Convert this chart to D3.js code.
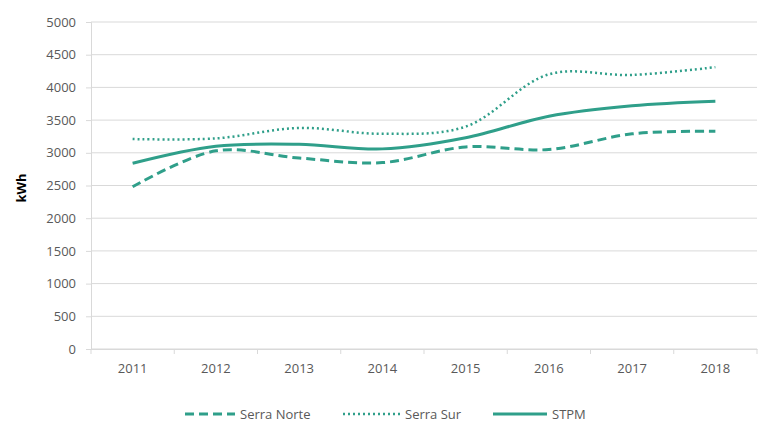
<!DOCTYPE html>
<html><head><meta charset="utf-8">
<script src="https://cdn.jsdelivr.net/npm/d3@7"></script>
<style>body{margin:0;background:#fff;} text{font-family:"Open Sans",sans-serif;}</style>
</head><body>
<svg id="c" width="774" height="427"></svg>
<script>
const years = ["2011","2012","2013","2014","2015","2016","2017","2018"];
const serraNorte = [2480, 3030, 2920, 2850, 3090, 3050, 3290, 3330];
const serraSur = [3210, 3220, 3380, 3290, 3400, 4200, 4190, 4310];
const stpm = [2840, 3100, 3130, 3060, 3230, 3560, 3720, 3790];
const yTicks = [0,500,1000,1500,2000,2500,3000,3500,4000,4500,5000];
const seriesNames = ["Serra Norte","Serra Sur","STPM"];

const color = "#2f9f8a";
const svg = d3.select("#c");
const x = d3.scaleBand().domain(years).range([91, 757]);
const y = d3.scaleLinear().domain([0,5000]).range([349, 22]);

// gridlines
svg.append("g").selectAll("line").data(yTicks).join("line")
  .attr("x1", 91).attr("x2", 757)
  .attr("y1", d=>y(d)).attr("y2", d=>y(d))
  .attr("stroke", "#d9d9d9").attr("stroke-width", 1);

// y axis
const ya = svg.append("g").attr("transform","translate(91,0)")
  .call(d3.axisLeft(y).tickValues(yTicks).tickFormat(d3.format("d")).tickSize(5).tickPadding(10));
ya.select(".domain").attr("stroke","#d9d9d9");
ya.selectAll(".tick line").attr("stroke","#d9d9d9");
ya.selectAll("text").attr("fill","#595959").style("font-size","13px");

// x axis
const xa = svg.append("g").attr("transform","translate(0,349)")
  .call(d3.axisBottom(x).tickSize(0).tickPadding(15));
xa.select(".domain").attr("stroke","#d9d9d9");
xa.selectAll("text").attr("fill","#595959").style("font-size","13px");
svg.append("g").selectAll("line").data(d3.range(years.length+1)).join("line")
  .attr("x1", i=>91+i*x.step()).attr("x2", i=>91+i*x.step())
  .attr("y1",349).attr("y2",354).attr("stroke","#d9d9d9");

// axis title
svg.append("text").attr("transform","translate(26,188) rotate(-90)")
  .attr("text-anchor","middle").attr("font-weight","bold").style("font-size","13px")
  .attr("fill","#000").text("kWh");

const line = d3.line().x((d,i)=>x(years[i])+x.bandwidth()/2).y(d=>y(d))
  .curve(d3.curveCatmullRom.alpha(0.5));
const styles = [
  {data: serraNorte, dash: "9,5", w: 3},
  {data: serraSur, dash: "2,3", w: 2.5},
  {data: stpm, dash: null, w: 3}
];
styles.forEach(s=>{
  svg.append("path").attr("d", line(s.data)).attr("fill","none")
    .attr("stroke", color).attr("stroke-width", s.w)
    .attr("stroke-dasharray", s.dash);
});

// legend
const legX = [185, 343, 493];
const legW = [50, 57, 54];
const lg = svg.append("g");
seriesNames.forEach((n,i)=>{
  lg.append("line").attr("x1",legX[i]).attr("x2",legX[i]+legW[i]).attr("y1",414).attr("y2",414)
    .attr("stroke",color).attr("stroke-width",styles[i].w).attr("stroke-dasharray",styles[i].dash);
  lg.append("text").attr("x",legX[i]+legW[i]+5).attr("y",419).attr("fill","#595959")
    .style("font-size","13px").text(n);
});
</script>
</body></html>
